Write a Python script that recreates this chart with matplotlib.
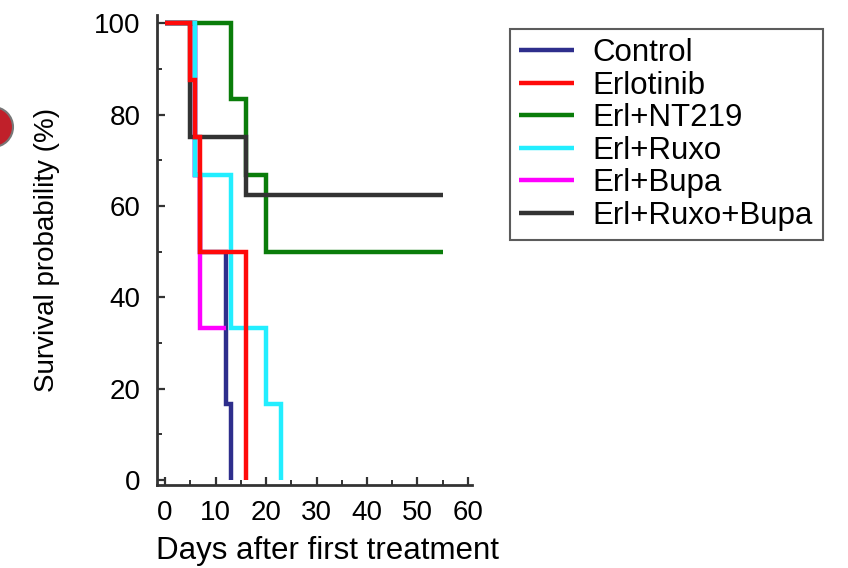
import matplotlib
matplotlib.use("Agg")
import matplotlib.pyplot as plt
from matplotlib.patches import Ellipse

plt.rcParams['font.family'] = ['Liberation Sans', 'DejaVu Sans']

# ---- data (Kaplan-Meier step curves) ----
labels = ["Control", "Erlotinib", "Erl+NT219", "Erl+Ruxo", "Erl+Bupa", "Erl+Ruxo+Bupa"]
control_t = [0, 6, 7, 12, 13]
control_s = [100, 66.7, 50, 16.7, 0]
erlotinib_t = [0, 5, 6, 7, 16]
erlotinib_s = [100, 87.5, 75, 50, 0]
nt219_t = [0, 13, 16, 20, 55]
nt219_s = [100, 83.3, 66.7, 50, 50]
ruxo_t = [0, 6, 13, 20, 23]
ruxo_s = [100, 66.7, 33.3, 16.7, 0]
bupa_t = [0, 6, 7, 12]
bupa_s = [100, 66.7, 33.3, 33.3]
ruxobupa_t = [0, 5, 16, 55]
ruxobupa_s = [100, 75, 62.5, 62.5]

x_ticks = [0, 10, 20, 30, 40, 50, 60]
y_ticks = [0, 20, 40, 60, 80, 100]

colors = ["#2e2e8c", "#ff0a0a", "#0a7d0a", "#22eeff", "#ff00ff", "#333333"]
zorders = [2, 7, 4, 5, 3, 6]
series = [(control_t, control_s), (erlotinib_t, erlotinib_s), (nt219_t, nt219_s),
          (ruxo_t, ruxo_s), (bupa_t, bupa_s), (ruxobupa_t, ruxobupa_s)]

W, H = 848, 568
fig = plt.figure(figsize=(W / 100, H / 100), dpi=100)
ax = fig.add_axes([157 / W, 1 - 485 / H, (472 - 157) / W, (485 - 15) / H])

for (t, s), lab, c, z in zip(series, labels, colors, zorders):
    ax.step(t, s, where='post', color=c, lw=3.2, label=lab, zorder=z,
            solid_capstyle='butt', solid_joinstyle='miter')

ax.set_xlim(-1.6, 60.8)
ax.set_ylim(-1.1, 101.8)
ax.set_xticks(x_ticks)
ax.set_yticks(y_ticks)
ax.set_xticks(range(5, 60, 10), minor=True)
ax.set_yticks(range(10, 100, 20), minor=True)

for side in ("top", "right"):
    ax.spines[side].set_visible(False)
for side in ("left", "bottom"):
    ax.spines[side].set_color("#333333")
    ax.spines[side].set_linewidth(2.0)

ax.tick_params(which='major', direction='in', length=6, width=1.6, color="#333333",
               labelsize=20)
ax.tick_params(axis='x', which='major', pad=11)
ax.tick_params(axis='y', which='major', pad=12)
ax.tick_params(which='minor', direction='in', length=3.5, width=1.4, color="#333333")

ax.set_xlabel("Days after first treatment", fontsize=22.5)
ax.xaxis.set_label_coords(0.54, -0.108)
ax.set_ylabel("Survival probability (%)", fontsize=20, labelpad=24)

leg = fig.legend(loc='upper left', bbox_to_anchor=(510 / W, 1 - 29 / H),
                 fontsize=22.5, frameon=True, fancybox=False, handlelength=1.75,
                 handletextpad=0.6, labelspacing=0.08, borderpad=0.3,
                 borderaxespad=0)
leg.get_frame().set_edgecolor("#333333")
leg.get_frame().set_linewidth(1.5)
for line in leg.get_lines():
    line.set_linewidth(3.2)

# partial red circle at the left edge
circ = Ellipse((-7 / W, 1 - 127 / H), 40 / W, 40 / H, transform=fig.transFigure,
               facecolor="#c0202a", edgecolor="#777777", lw=1.5)
fig.add_artist(circ)

fig.savefig("out.png", dpi=100)
